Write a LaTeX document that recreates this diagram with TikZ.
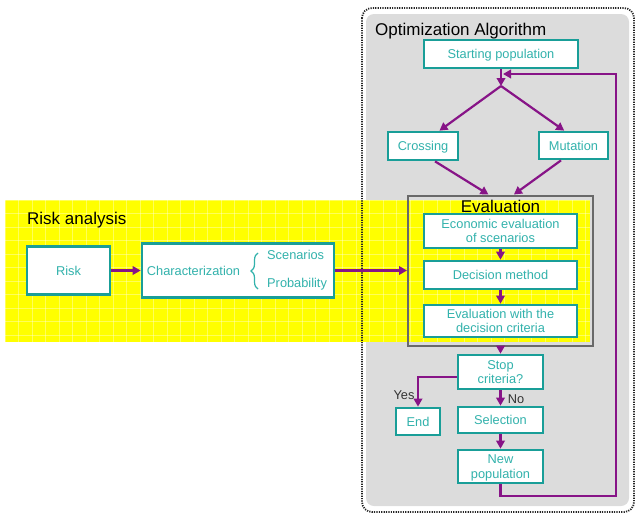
\documentclass[tikz,border=0pt]{standalone}
\usepackage{fontspec}
\setmainfont{Liberation Sans}
\usetikzlibrary{arrows.meta,decorations.pathreplacing}
\definecolor{tealB}{RGB}{25,158,152}
\definecolor{tealT}{RGB}{50,178,172}
\definecolor{purp}{RGB}{135,20,135}
\definecolor{bgray}{RGB}{220,220,220}
\definecolor{egray}{RGB}{105,105,105}
\definecolor{yel}{RGB}{255,255,0}
\begin{document}
\begin{tikzpicture}[x=1pt,y=-1pt,
 box/.style={draw=tealB, line width=2.7pt, fill=white, text=tealT, inner sep=0pt, align=center, text depth=0pt, font=\fontsize{12.8}{14.5}\selectfont},
 arr/.style={draw=purp, line width=2.2pt, -{Triangle[length=8pt,width=8.5pt]}},
 ttl/.style={font=\fontsize{17}{20}\selectfont, text=black, inner sep=0pt},
 lab/.style={font=\fontsize{12.8}{14}\selectfont, text=black!80, inner sep=0pt},
 plaintxt/.style={font=\fontsize{12.8}{14}\selectfont, text=tealT, inner sep=0pt, text depth=0pt}]
\useasboundingbox (0,0) rectangle (637,514);
% backgrounds
\fill[bgray, rounded corners=8pt] (366,14) rectangle (629,506);
\fill[yel] (5,200) rectangle (590,342);
\foreach \i in {0,...,43} \draw[white, opacity=0.35, line width=0.5pt] (5+\i*13.5,200) -- (5+\i*13.5,342);
\foreach \j in {0,...,10} \draw[white, opacity=0.35, line width=0.5pt] (5,200+\j*13.5) -- (590,200+\j*13.5);
\draw[line width=1.8pt, dash pattern=on 1.2pt off 1.2pt, rounded corners=10pt, black!85] (362,8) rectangle (634,512);
% titles
\node[ttl, anchor=base west] (optt) at (375,35) {Optimization Algorithm};
\node[ttl, anchor=base west] (riskt) at (27,224) {Risk analysis};
% evaluation frame
\node[draw=egray, line width=2pt, minimum width=185pt, minimum height=150pt, inner sep=0pt] (evalbox) at (500.5,270.5) {};
\node[ttl, anchor=base] (evalt) at (500.5,212) {Evaluation};
% boxes
\node[box, minimum width=154pt, minimum height=28pt] (start) at (501,54) {Starting population};
\node[box, minimum width=70pt, minimum height=28pt] (cross) at (423,146) {Crossing};
\node[box, minimum width=69pt, minimum height=27pt] (mut) at (573.5,145.5) {Mutation};
\node[box, minimum width=153pt, minimum height=34pt] (econ) at (500.5,231) {Economic evaluation\\of scenarios};
\node[box, minimum width=153pt, minimum height=28pt] (dec) at (500.5,275) {Decision method};
\node[box, minimum width=153pt, minimum height=32pt] (crit) at (500.5,321) {Evaluation with the\\decision criteria};
\node[box, minimum width=85pt, minimum height=34pt] (stop) at (500.5,372) {Stop\\criteria?};
\node[box, minimum width=44pt, minimum height=27pt] (end) at (418,421.5) {End};
\node[box, minimum width=85pt, minimum height=26pt] (sel) at (500.5,420) {Selection};
\node[box, minimum width=85pt, minimum height=33pt] (newpop) at (500.5,466.5) {New\\population};
\node[box, minimum width=83pt, minimum height=48pt] (risk) at (68.5,270.5) {Risk};
\node[box, minimum width=192pt, minimum height=54pt] (char) at (238,270.5) {};
\node[plaintxt] (chart) at (193.5,270.5) {Characterization};
\node[plaintxt, anchor=west] (scen) at (267,255) {Scenarios};
\node[plaintxt, anchor=west] (prob) at (267,283) {Probability};
\coordinate (bb) at (258,289);
\coordinate (bt) at (258,253);
\draw[tealT, line width=1.2pt, decorate, decoration={brace, amplitude=7pt}] (bb) -- (bt);
% labels
\node[lab] (yes) at (404,395) {Yes};
\node[lab] (no) at (516,399) {No};
% connectors
\coordinate (junc) at (501,86);
\coordinate (rc) at (616,74);
\coordinate (loopend) at (503,74);
\draw[arr] (start.south) -- (junc);
\draw[arr] (junc) -- (cross.43);
\draw[arr] (junc) -- (mut.122);
\draw[arr] (cross.-52) -- (evalbox.99.5);
\draw[arr] (mut.230) -- (evalbox.80.5);
\draw[arr] (risk.east) -- (char.west);
\draw[arr] (char.east) -- (evalbox.west);
\draw[arr] (econ.south) -- (dec.north);
\draw[arr] (dec.south) -- (crit.north);
\draw[arr] (evalbox.south) -- (stop.north);
\draw[arr] (stop.186) -| (end.north);
\draw[arr] (stop.south) -- (sel.north);
\draw[arr] (sel.south) -- (newpop.north);
\draw[arr] (newpop.south) -- ++(0,12) -| (rc) -- (loopend);
\end{tikzpicture}
\end{document}
